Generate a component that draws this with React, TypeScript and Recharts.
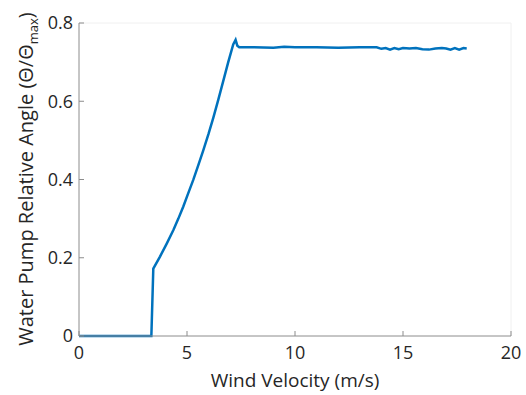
import React from 'react';
import { LineChart, Line, XAxis, YAxis, ReferenceLine } from 'recharts';

const windVelocity = [
  0, 3.35, 3.44, 3.75, 4.05, 4.37, 4.6, 4.83, 5.05, 5.29, 5.52, 5.75, 6.0, 6.22, 6.45, 6.68, 6.9, 7.14, 7.25,
  7.33, 7.42, 8, 9, 9.5, 10, 11, 12, 13, 13.78, 14.0, 14.2, 14.4, 14.6, 14.8, 15.0, 15.3, 15.6, 15.9, 16.2,
  16.5, 16.8, 17.0, 17.2, 17.4, 17.6, 17.8, 17.95,
];
const relativeAngle = [
  0, 0, 0.172, 0.203, 0.235, 0.271, 0.3, 0.331, 0.364, 0.399, 0.436, 0.474, 0.517, 0.558, 0.604, 0.652, 0.698,
  0.745, 0.757, 0.742, 0.738, 0.738, 0.737, 0.739, 0.738, 0.738, 0.737, 0.738, 0.738, 0.734, 0.736, 0.732,
  0.736, 0.733, 0.736, 0.735, 0.736, 0.733, 0.732, 0.735, 0.736, 0.735, 0.732, 0.736, 0.732, 0.736, 0.735,
];
const xTicks = [0, 5, 10, 15, 20];
const yTicks = [0, 0.2, 0.4, 0.6, 0.8];

const data = windVelocity.map((v, i) => ({ v, angle: relativeAngle[i] }));

const FONT = '"Open Sans", "Liberation Sans", sans-serif';
const TEXT = '#262626';
const AXIS = '#8c8c8c';

const YTitle = () => (
  <text
    transform="translate(33,179) rotate(-90)"
    textAnchor="middle"
    fontFamily={FONT}
    fontSize={20}
    fill={TEXT}
  >
    Water Pump Relative Angle (Θ/Θ
    <tspan fontSize={13} dy={5}>max</tspan>
    <tspan dy={-5}>)</tspan>
  </text>
);

const XTitle = () => (
  <text x={295} y={387} textAnchor="middle" fontFamily={FONT} fontSize={19} fill={TEXT}>
    Wind Velocity (m/s)
  </text>
);

export default function App() {
  return (
    <div style={{ position: 'fixed', left: 0, top: 0, width: 526, height: 395, background: '#fff' }}>
      <LineChart width={526} height={395} data={data} margin={{ top: 23, right: 15, bottom: 0, left: 0 }}>
        <ReferenceLine y={0.8} stroke="#f0f0f0" />
        <ReferenceLine x={20} stroke="#f0f0f0" />
        <XAxis
          dataKey="v"
          type="number"
          domain={[0, 20]}
          ticks={xTicks}
          height={59}
          stroke={AXIS}
          tickSize={-5}
          tickMargin={15}
          tick={{ fill: TEXT, fontSize: 18, fontFamily: FONT }}
          label={<XTitle />}
        />
        <YAxis
          type="number"
          domain={[0, 0.8]}
          ticks={yTicks}
          width={79}
          stroke={AXIS}
          tickSize={-5}
          tickMargin={11}
          tick={{ fill: TEXT, fontSize: 18, fontFamily: FONT }}
          label={<YTitle />}
        />
        <Line
          type="linear"
          dataKey="angle"
          stroke="#0072BD"
          strokeWidth={2.5}
          dot={false}
          isAnimationActive={false}
        />
      </LineChart>
    </div>
  );
}
